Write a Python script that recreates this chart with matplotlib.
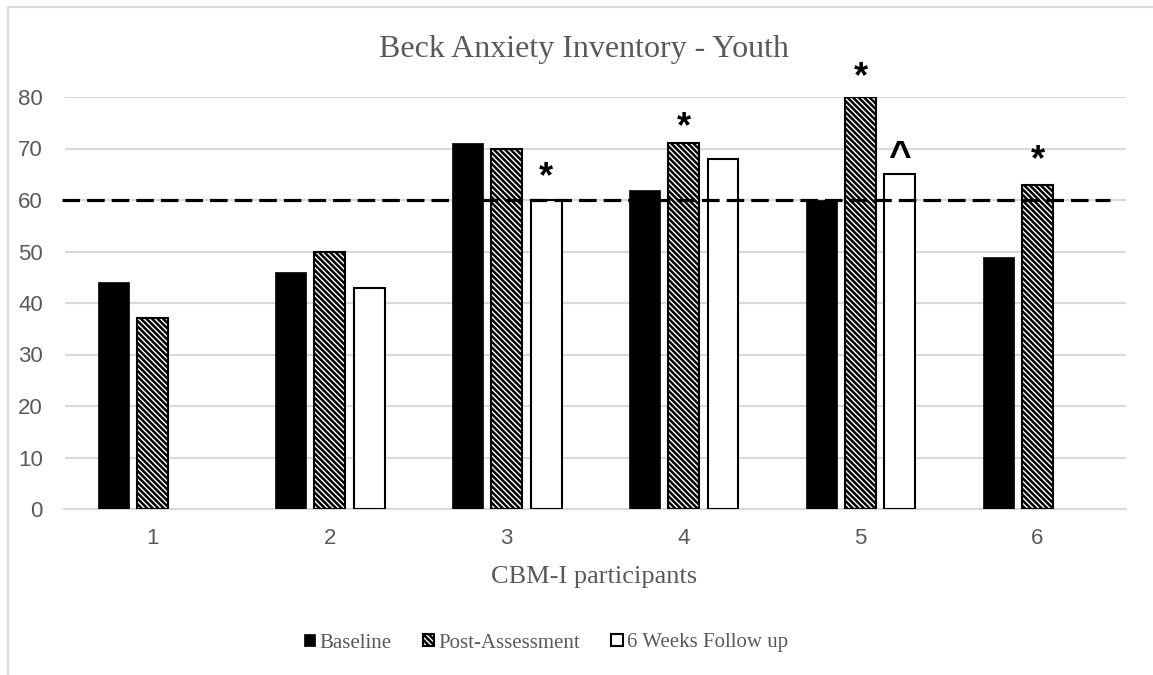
import numpy as np
import matplotlib.pyplot as plt
from matplotlib.patches import Rectangle

# data
participants = ["1", "2", "3", "4", "5", "6"]
baseline = [44, 46, 71, 62, 60, 49]
post_assessment = [37, 50, 70, 71, 80, 63]
follow_up = [np.nan, 43, 60, 68, 65, np.nan]
cutoff = 60

# significance marks: (participant index, series index, symbol, offset in px above bar)
marks = [(2, 2, "*", 5), (3, 1, "*", -2), (4, 1, "*", 2), (4, 2, "^", -2), (5, 1, "*", 6)]

GRAY = "#595959"
SERIF = "Liberation Serif"
SANS = "Liberation Sans"

fig = plt.figure(figsize=(11.53, 6.75), dpi=100)
ax = fig.add_axes([64.5 / 1153, 1 - 509 / 675, 1061.5 / 1153, 412 / 675])

# chart frame (only top and left edges visible in the crop)
fig.patches.append(Rectangle((7.5 / 1153, -0.1), 1.2, (675 - 7.5) / 675 + 0.1,
                             transform=fig.transFigure, fill=False,
                             edgecolor="#d9d9d9", linewidth=1.5, zorder=0))

x = np.arange(len(participants))
w = 0.175
step = 0.222
plt.rcParams["hatch.linewidth"] = 1.8

series = [baseline, post_assessment, follow_up]
ax.bar(x - step, baseline, w, color="black", edgecolor="black", linewidth=0.5,
       label="Baseline", zorder=3)
ax.bar(x, post_assessment, w, color="white", edgecolor="black", hatch="\\" * 6,
       linewidth=1.5, label="Post-Assessment", zorder=3)
fx = [xi + step for xi, v in zip(x, follow_up) if not np.isnan(v)]
fv = [v for v in follow_up if not np.isnan(v)]
ax.bar(fx, fv, w, color="white", edgecolor="black", linewidth=1.5,
       label="6 Weeks Follow up", zorder=3)

# cut-off line
ax.axhline(cutoff, xmin=-0.002, xmax=0.985, color="black", linewidth=2.3,
           dashes=(5.5, 2.2), zorder=4, clip_on=False)

for gi, si, sym, off in marks:
    ax.annotate(sym, (x[gi] + (si - 1) * step, series[si][gi]), xytext=(0, off * 0.72),
                textcoords="offset points", ha="center", va="bottom",
                fontsize=26 if sym == "*" else 28, fontfamily=SANS,
                fontweight="bold", color="black",
                zorder=5, annotation_clip=False)

ax.set_xlim(-0.5, 5.5)
ax.set_ylim(0, 80)
ax.set_yticks(range(0, 81, 10))
ax.set_xticks(x)
ax.set_xticklabels(participants)
ax.grid(axis="y", color="#d9d9d9", linewidth=1.5, zorder=0)
ax.set_axisbelow(True)
for s in ["top", "right", "left"]:
    ax.spines[s].set_visible(False)
ax.spines["bottom"].set_color("#d9d9d9")
ax.spines["bottom"].set_linewidth(1.5)
ax.tick_params(length=0, labelsize=16, labelcolor=GRAY, pad=14)
ax.tick_params(axis="y", pad=15.5)
for lab in ax.get_xticklabels() + ax.get_yticklabels():
    lab.set_fontfamily(SANS)

fig.text(584 / 1153, 1 - 50 / 675, "Beck Anxiety Inventory - Youth", ha="center", va="center",
         fontsize=23, fontfamily=SERIF, color=GRAY)
fig.text(594 / 1153, 1 - 577 / 675, "CBM-I participants", ha="center", va="center",
         fontsize=19, fontfamily=SERIF, color=GRAY)

leg = fig.legend(loc="center", bbox_to_anchor=(546 / 1153, 1 - 643 / 675), ncol=3, frameon=False,
                 prop={"family": SERIF, "size": 15}, handlelength=0.55, handleheight=0.55,
                 handletextpad=0.2, columnspacing=1.5)
for t in leg.get_texts():
    t.set_color(GRAY)

fig.savefig("out.png", dpi=100)
